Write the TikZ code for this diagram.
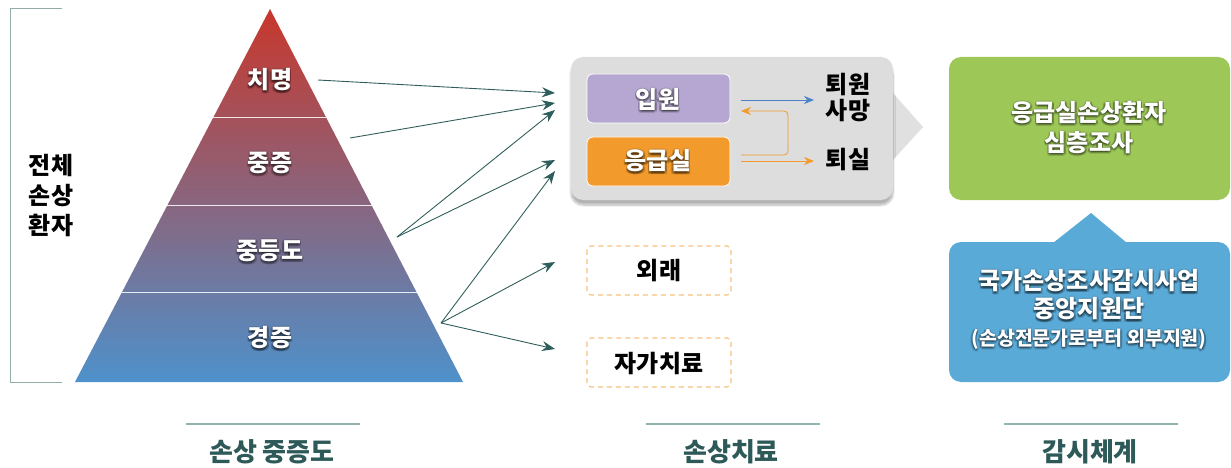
\documentclass[tikz,border=0pt]{standalone}
\usepackage{fontspec}
\setmainfont{Noto Sans CJK KR}
\usepackage{tikz}
\usetikzlibrary{positioning}
\usetikzlibrary{calc}
\usetikzlibrary{arrows.meta}
\usetikzlibrary{shadows.blur}

\definecolor{tealline}{HTML}{2E5E5B}
\definecolor{bracketgray}{HTML}{93ABA9}
\definecolor{pyrtop}{HTML}{C8372C}
\definecolor{pyrmid}{HTML}{9C6B72}
\definecolor{pyrbot}{HTML}{4E91CB}
\definecolor{boxgray}{HTML}{DCDDDC}
\definecolor{tipgray}{HTML}{E0E0E0}
\definecolor{admitpurple}{HTML}{B5A7D1}
\definecolor{erorange}{HTML}{F29B2C}
\definecolor{dashorange}{HTML}{F7C27E}
\definecolor{deathblue}{HTML}{4D82C9}
\definecolor{surveygreen}{HTML}{9DC858}
\definecolor{centerblue}{HTML}{5AAAD8}
\definecolor{captionline}{HTML}{93B5B1}
\definecolor{captiontext}{HTML}{2D5A58}

\tikzset{
  bigfont/.style={font=\bfseries\fontsize{24}{30}\selectfont},
  whitetext/.style={bigfont, text=white, align=center, inner sep=0pt},
  glowcopy/.style={text=black, text opacity=0.13},
  darktext/.style={bigfont, text=black, align=center, inner sep=0pt},
  flowarrow/.style={draw=tealline, line width=0.9pt, -{Stealth[length=13pt,width=10pt]}},
  smallarrow/.style={line width=0.8pt, -{Stealth[length=10pt,width=8pt]}},
  innerbox/.style={rounded corners=6pt, draw=white, line width=0.8pt},
  dashbox/.style={draw=dashorange, dashed, dash pattern=on 5pt off 4pt, line width=1.2pt, rounded corners=4pt},
  caption/.style={font=\bfseries\fontsize{26}{28}\selectfont, text=captiontext, inner sep=0pt},
}

% white text with a soft dark halo: #1 position, #2 name, #3 extra style, #4 text
\newcommand\glowtext[4]{%
  \foreach \gx/\gy in {0/-1.5,1.2/-1.2,-1.2/-1.2,0/-3,1.5/0,-1.5/0,0/1,1.5/-2.5,-1.5/-2.5}
    \node[whitetext, #3, glowcopy] at ([shift={(\gx pt,\gy pt)}]#1) {#4};
  \node[whitetext, #3] (#2) at (#1) {#4};
}

\begin{document}
\begin{tikzpicture}[x=1pt,y=-1pt]
  \useasboundingbox (0,0) rectangle (1231,468);

  % Bracket
  \draw[bracketgray, line width=1pt] (62,9) -- (10,9) -- (10,382) -- (62,382);
  \node[darktext] (allpatients) at (51,196) {전체\\손상\\환자};

  % Pyramid
  \coordinate (apex) at (270,9);
  \coordinate (baseL) at (75,382);
  \coordinate (baseR) at (463,382);
  \shade[top color=pyrtop, middle color=pyrmid, bottom color=pyrbot]
    (apex) -- (baseR) -- (baseL) -- cycle;
  \foreach \f in {0.29,0.528,0.761}
    \draw[white, opacity=0.85, line width=1pt] ($(apex)!\f!(baseL)$) -- ($(apex)!\f!(baseR)$);
  \glowtext{270,80}{fatal}{}{치명}
  \glowtext{270,163}{severe}{}{중증}
  \glowtext{270,251}{moderate}{}{중등도}
  \glowtext{270,338}{mild}{}{경증}

  % Treatment box
  \fill[tipgray] (893,93) -- (923,127) -- (893,160) -- cycle;
  \fill[boxgray, rounded corners=12pt, blur shadow={shadow xshift=0pt, shadow yshift=-5pt, shadow opacity=30, shadow blur steps=8}]
    (571,57) rectangle (893,200);
  \fill[admitpurple, innerbox] (587,74) rectangle (730,123);
  \fill[erorange, innerbox] (587,137) rectangle (730,186);
  \glowtext{658,99}{admit}{}{입원}
  \glowtext{658,161}{er}{}{응급실}
  \node[darktext, font=\bfseries\fontsize{24}{26}\selectfont] (death) at (848,98) {퇴원\\사망};
  \node[darktext] (discharge) at (848,160) {퇴실};

  \coordinate (admitOut) at (741,100);
  \coordinate (deathIn) at (814,100);
  \coordinate (erOut) at (741,161);
  \coordinate (dischargeIn) at (814,161);
  \coordinate (returnIn) at (741,111);
  \coordinate (returnOut) at (741,155);
  \draw[smallarrow, deathblue] (admitOut) -- (deathIn);
  \draw[smallarrow, erorange] (erOut) -- (dischargeIn);
  \draw[smallarrow, erorange, rounded corners=4pt] (returnOut) -| (788,133) |- (returnIn);

  % Outpatient and self care
  \draw[dashbox] (587,246) rectangle (731,295);
  \node[darktext] (outpatient) at (659,271) {외래};
  \draw[dashbox] (587,338) rectangle (731,387);
  \node[darktext] (selfcare) at (659,363) {자가치료};

  % Arrows from severity levels
  \coordinate (fromFatal) at (318,80);
  \coordinate (fromSevere) at (350,138);
  \coordinate (fromModerate) at (397,237);
  \coordinate (fromMild) at (441,323);
  \coordinate (toA) at (555,93);
  \coordinate (toB) at (555,103);
  \coordinate (toC) at (555,110);
  \coordinate (toD) at (555,160);
  \coordinate (toE) at (555,171);
  \coordinate (toF) at (555,262);
  \coordinate (toG) at (555,349);
  \draw[flowarrow] (fromFatal) -- (toA);
  \draw[flowarrow] (fromSevere) -- (toB);
  \draw[flowarrow] (fromModerate) -- (toC);
  \draw[flowarrow] (fromModerate) -- (toD);
  \draw[flowarrow] (fromMild) -- (toE);
  \draw[flowarrow] (fromMild) -- (toF);
  \draw[flowarrow] (fromMild) -- (toG);

  % Surveillance
  \fill[surveygreen, rounded corners=12pt] (949,57) rectangle (1230,200);
  \glowtext{1089,127}{survey}{}{응급실손상환자\\심층조사}
  \fill[centerblue] (1053,243) -- (1091,213) -- (1127,243) -- cycle;
  \fill[centerblue, rounded corners=12pt] (949,242) rectangle (1230,382);
  \glowtext{1089,295}{center}{font=\bfseries\fontsize{24}{28}\selectfont}{국가손상조사감시사업\\중앙지원단}
  \glowtext{1089,339}{support}{font=\bfseries\fontsize{19.5}{22}\selectfont}{(손상전문가로부터 외부지원)}

  % Captions
  \draw[captionline, line width=2pt] (186,424) -- (360,424);
  \draw[captionline, line width=2pt] (646,424) -- (820,424);
  \draw[captionline, line width=2pt] (1004,424) -- (1178,424);
  \node[caption] (capSeverity) at (272,452) {손상 중증도};
  \node[caption] (capTreatment) at (731,452) {손상치료};
  \node[caption] (capSurveillance) at (1090,452) {감시체계};
\end{tikzpicture}
\end{document}
